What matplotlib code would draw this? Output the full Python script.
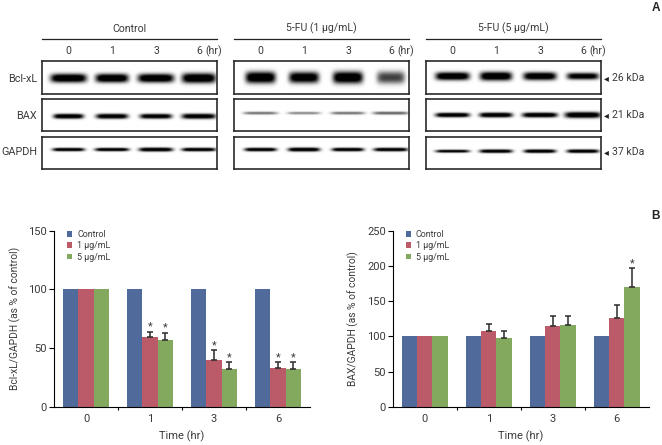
import numpy as np
import matplotlib
matplotlib.use('Agg')
import matplotlib.pyplot as plt

plt.rcParams['font.family'] = ['Roboto', 'Liberation Sans', 'DejaVu Sans']
TXT = '#3a3a3a'

W, H = 662, 445

# bar data
times = ['0', '1', '3', '6']
doses = ['Control', '1 µg/mL', '5 µg/mL']
colors = ['#4f6a9b', '#bb5a68', '#83a95f']

bcl_ctrl = [100, 100, 100, 100]
bcl_1 = [100, 59, 40, 33]
bcl_5 = [100, 57, 32, 32]
bcl_err_1 = [0, 5, 8, 5]
bcl_err_5 = [0, 6, 6, 6]
bcl_star_1 = [False, True, True, True]
bcl_star_5 = [False, True, True, True]

bax_ctrl = [101, 101, 101, 101]
bax_1 = [101, 107, 114, 126]
bax_5 = [101, 98, 116, 170]
bax_err_1 = [0, 10, 15, 18]
bax_err_5 = [0, 10, 13, 27]
bax_star_1 = [False, False, False, False]
bax_star_5 = [False, False, False, True]

# blot data: one list per panel, per row, per lane
blot_titles = ['Control', '5-FU (1 µg/mL)', '5-FU (5 µg/mL)']
row_names = ['Bcl-xL', 'BAX', 'GAPDH']
kda = ['26 kDa', '21 kDa', '37 kDa']
lanes = ['0', '1', '3', '6']
# darkness of the bands
dark = [
    [[1.0, 1.0, 1.0, 1.0], [1.0, 0.95, 0.95, 0.95], [0.98, 0.98, 0.98, 0.98]],
    [[1.0, 0.95, 1.0, 0.6], [0.45, 0.38, 0.45, 0.5], [0.98, 0.98, 0.98, 0.98]],
    [[1.0, 1.0, 0.97, 0.9], [1.0, 1.0, 1.0, 1.0], [0.9, 0.95, 0.98, 0.98]],
]
# thickness of the bands (px)
thick = [
    [[4.4, 4.4, 4.4, 5.0], [2.5, 2.6, 2.5, 2.7], [1.7, 1.7, 2.0, 1.8]],
    [[5.8, 5.6, 6.0, 6.2], [1.5, 1.4, 1.5, 1.6], [1.8, 2.0, 1.8, 1.8]],
    [[4.0, 4.4, 4.0, 3.4], [2.3, 2.5, 2.5, 3.1], [1.5, 1.8, 1.8, 1.8]],
]
# half width of the bands (px)
spread = [
    [[18, 16.5, 18, 17], [15, 16, 16, 17], [16, 17, 17, 17]],
    [[15, 15, 15, 14], [17, 16.5, 17, 18], [16, 16, 16, 17]],
    [[17, 16, 16.5, 16], [17, 16.5, 17.5, 18], [17, 16.5, 16, 16]],
]
# band height offset in each row box (fraction from top)
row_level = [
    [0.52, 0.54, 0.41],
    [0.50, 0.44, 0.41],
    [0.46, 0.50, 0.46],
]

panel_left = [42, 234, 426]
panel_w = 175
row_top = [61, 99, 136.5]
row_h = [33, 32, 32.5]
lane_off = [26.5, 70, 114, 157]
name_y = [78.5, 116, 152]
kda_y = [78, 115, 152]


def pix_axes(x0, y0, x1, y1):
    # y0 is the top in image pixels
    return fig.add_axes([x0 / W, 1 - y1 / H, (x1 - x0) / W, (y1 - y0) / H])


def draw_blot(ax, level, dk, th, sp):
    h, w = 3 * row_h[0], 3 * panel_w
    xx, yy = np.meshgrid(np.linspace(0, panel_w, w), np.linspace(0, 1, h))
    img = np.zeros((h, w))
    for off, d, t, s in zip(lane_off, dk, th, sp):
        rows = (yy - level) * 33
        band = np.exp(-(np.abs(xx - off) / s) ** 6) * np.exp(-(np.abs(rows) / t) ** 2.4)
        img = np.maximum(img, d * band)
    ax.imshow(1 - np.clip(img * 1.25, 0, 1), cmap='gray', vmin=0, vmax=1, aspect='auto',
              extent=[0, panel_w, 1, 0], interpolation='bilinear')
    ax.set_xticks([])
    ax.set_yticks([])
    for s in ax.spines.values():
        s.set_linewidth(1.2)
        s.set_color('#2a2a2a')


def draw_bars(ax, ctrl, one, five, err1, err5, star1, star5, ymax, step, ylabel, lab_x):
    x = np.arange(len(times))
    w = 0.24
    ax.bar(x - w, ctrl, w, color=colors[0], label=doses[0])
    ax.bar(x, one, w, color=colors[1], label=doses[1])
    ax.bar(x + w, five, w, color=colors[2], label=doses[2])
    for xs, vals, errs, stars in ((x, one, err1, star1), (x + w, five, err5, star5)):
        for xi, v, e, s in zip(xs, vals, errs, stars):
            if e > 0:
                ax.errorbar(xi, v, yerr=[[0], [e]], color='#2b2b2b', lw=1.1, capsize=1.9,
                            capthick=1.1)
            if s:
                ax.annotate('*', (xi, v + e), xytext=(0, 0), textcoords='offset points',
                            ha='center', va='bottom', fontsize=8, color=TXT)
    ax.set_xlim(-0.5, 3.5)
    ax.set_ylim(0, ymax)
    ax.set_yticks(np.arange(0, ymax + 1, step))
    ax.set_xticks([0.5, 1.5, 2.5])
    ax.set_xticklabels([])
    ax.set_xticks(x, times, minor=True)
    ax.tick_params(axis='x', which='minor', length=0, pad=5.5, labelsize=8, labelcolor=TXT)
    ax.tick_params(axis='x', which='major', length=2.5, width=0.8)
    ax.tick_params(axis='y', length=3.5, width=0.8, labelsize=8, labelcolor=TXT, pad=1.5)
    ax.spines['top'].set_visible(False)
    ax.spines['right'].set_visible(False)
    ax.set_xlabel('Time (hr)', fontsize=8, color=TXT)
    ax.set_ylabel(ylabel, fontsize=7.4, color=TXT)
    ax.yaxis.set_label_coords(lab_x, 0.5)
    ax.xaxis.set_label_coords(0.5, -0.135)
    ax.legend(loc='upper left', bbox_to_anchor=(0.05, 1.005), frameon=False, fontsize=6.4,
              handlelength=0.6, handleheight=0.6, handletextpad=0.55, labelspacing=0.28,
              borderpad=0, borderaxespad=0, labelcolor=TXT)


fig = plt.figure(figsize=(W / 100, H / 100), dpi=100)

# overlay in pixel coordinates for text and rules
bg = fig.add_axes([0, 0, 1, 1])
bg.set_xlim(0, W)
bg.set_ylim(H, 0)
bg.axis('off')

for p, left in enumerate(panel_left):
    bg.text(left + panel_w / 2, 28.5, blot_titles[p], ha='center', va='center', fontsize=7.6, color=TXT)
    bg.plot([left, left + panel_w], [39, 39], color='#222222', lw=0.9)
    for off, lane in zip(lane_off, lanes):
        bg.text(left + off, 51.5, lane, ha='center', va='center', fontsize=7.6, color=TXT)
    bg.text(left + panel_w - 3, 51.5, '(hr)', ha='center', va='center', fontsize=7.6, color=TXT)
    for r in range(3):
        ax = pix_axes(left, row_top[r], left + panel_w, row_top[r] + row_h[r])
        draw_blot(ax, row_level[p][r], dark[p][r], thick[p][r], spread[p][r])

for r in range(3):
    bg.text(37, name_y[r], row_names[r], ha='right', va='center', fontsize=7.8, color=TXT)
    bg.text(604, kda_y[r], '◂', ha='left', va='center', fontsize=7, color='#222222',
            family='DejaVu Sans')
    bg.text(612.5, kda_y[r], kda[r], ha='left', va='center', fontsize=7.6, color=TXT)

bg.text(656, 8, 'A', ha='center', va='center', fontsize=8.5, fontweight='bold', color='#222222',
        family='Liberation Sans')
bg.text(656, 216, 'B', ha='center', va='center', fontsize=8.5, fontweight='bold', color='#222222',
        family='Liberation Sans')

ax1 = pix_axes(54, 230.7, 310, 406.7)
draw_bars(ax1, bcl_ctrl, bcl_1, bcl_5, bcl_err_1, bcl_err_5, bcl_star_1, bcl_star_5,
          150, 50, 'Bcl-xL/GAPDH (as % of control)', -0.129)
ax2 = pix_axes(392.7, 230.7, 648.7, 406.7)
draw_bars(ax2, bax_ctrl, bax_1, bax_5, bax_err_1, bax_err_5, bax_star_1, bax_star_5,
          250, 50, 'BAX/GAPDH (as % of control)', -0.132)

fig.savefig('out.png', dpi=100)
